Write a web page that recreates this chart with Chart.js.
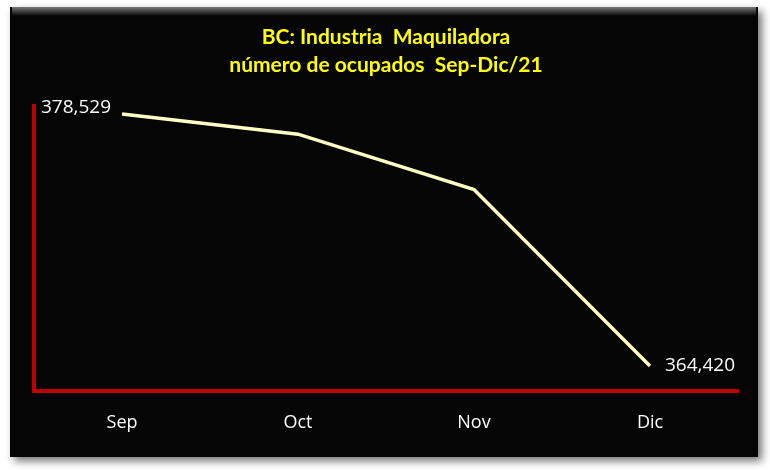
<!DOCTYPE html>
<html>
<head>
<meta charset="utf-8">
<script src="https://cdn.jsdelivr.net/npm/chart.js@4"></script>
<style>
  html, body { margin: 0; padding: 0; background: #ffffff; }
  #wrap { width: 770px; height: 470px; position: relative; }
</style>
</head>
<body>
<div id="wrap"><canvas id="chart" width="770" height="470"></canvas></div>
<script>
// BC maquiladora employment, Sep-Dic 2021
var months = ['Sep', 'Oct', 'Nov', 'Dic'];
var ocupados = [378529, 377400, 374300, 364420];
var titleLines = ['BC: Industria  Maquiladora', 'número de ocupados  Sep-Dic/21'];

// black panel with a soft shadow behind the chart
var panelBg = {
    id: 'panelBg',
    beforeDraw: function(chart) {
        var ctx = chart.ctx;
        ctx.save();
        ctx.fillStyle = '#ffffff';
        ctx.fillRect(0, 0, chart.width, chart.height);
        ctx.shadowColor = 'rgba(0,0,0,0.55)';
        ctx.shadowBlur = 8;
        ctx.shadowOffsetX = 4;
        ctx.shadowOffsetY = 4;
        ctx.fillStyle = '#050505';
        ctx.fillRect(10, 7, 748, 450);
        ctx.shadowColor = 'transparent';
        var g = ctx.createLinearGradient(0, 7, 0, 16);
        g.addColorStop(0, '#777777');
        g.addColorStop(1, '#050505');
        ctx.fillStyle = g;
        ctx.fillRect(12, 7, 744, 9);
        ctx.restore();
    }
};

// value labels on first and last point
var endLabels = {
    id: 'endLabels',
    afterDatasetsDraw: function(chart) {
        var ctx = chart.ctx;
        var pts = chart.getDatasetMeta(0).data;
        var vals = chart.data.datasets[0].data;
        ctx.save();
        ctx.font = '19px "Open Sans", sans-serif';
        ctx.fillStyle = '#ffffff';
        ctx.textBaseline = 'middle';
        var first = pts[0], last = pts[pts.length - 1];
        ctx.textAlign = 'right';
        ctx.fillText(vals[0].toLocaleString('en-US'), first.x - 11, first.y - 6);
        ctx.textAlign = 'left';
        ctx.fillText(vals[vals.length - 1].toLocaleString('en-US'), last.x + 15, last.y);
        ctx.restore();
    }
};

new Chart(document.getElementById('chart').getContext('2d'), {
    type: 'line',
    data: {
        labels: months,
        datasets: [{
            data: ocupados,
            borderColor: '#ffffc4',
            borderWidth: 3.5,
            pointRadius: 0,
            tension: 0,
            fill: false
        }]
    },
    options: {
        responsive: false,
        animation: false,
        layout: { padding: { left: 34, right: 32, top: 6, bottom: 15 } },
        plugins: {
            legend: { display: false },
            tooltip: { enabled: false },
            title: {
                display: true,
                text: titleLines,
                color: '#ffff00',
                font: { family: 'Lato', size: 21, weight: 'bold', lineHeight: 1.3 },
                padding: { top: 18, bottom: 27 }
            }
        },
        scales: {
            x: {
                offset: true,
                grid: { display: false, drawTicks: false },
                border: { display: true, color: '#c00000', width: 4 },
                ticks: { color: '#ffffff', font: { family: '"Open Sans"', size: 18 }, padding: 21 }
            },
            y: {
                min: 363000,
                max: 379000,
                grid: { display: false, drawTicks: false },
                border: { display: true, color: '#c00000', width: 4 },
                ticks: { display: false }
            }
        }
    },
    plugins: [panelBg, endLabels]
});
</script>
</body>
</html>
